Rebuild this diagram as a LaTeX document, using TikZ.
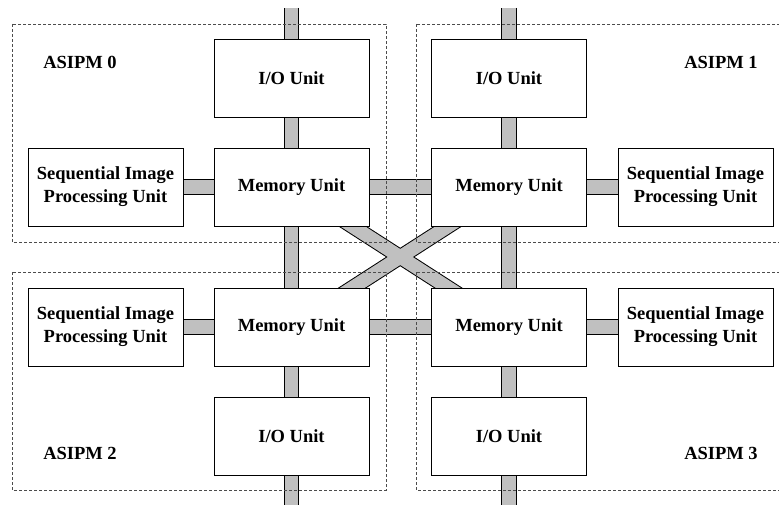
\documentclass[tikz,border=0pt]{standalone}
\usepackage{fontspec}
\setmainfont{Liberation Serif}
\usetikzlibrary{backgrounds}
\definecolor{busgray}{RGB}{192,192,192}

\begin{document}
\begin{tikzpicture}[x=1pt,y=-1pt,
  unit/.style={draw=black,line width=0.8pt,fill=white,minimum width=155pt,minimum height=78pt,inner sep=0pt,align=center,font=\fontsize{18.5}{23}\selectfont\bfseries},
  modname/.style={font=\fontsize{18.5}{23}\selectfont\bfseries},
  module/.style={draw=black!70,line width=0.8pt,dash pattern=on 3pt off 2pt}]
\useasboundingbox (0,0) rectangle (779,505);
\clip (0,0) rectangle (779,505);

\node[unit] (io0) at (291.5,78.5) {I/O Unit};
\node[unit] (mem0) at (291.5,187) {Memory Unit};
\node[unit] (seq0) at (105.5,187) {Sequential Image\\Processing Unit};
\node[unit] (io1) at (509,78.5) {I/O Unit};
\node[unit] (mem1) at (509,187) {Memory Unit};
\node[unit] (seq1) at (695.5,187) {Sequential Image\\Processing Unit};
\node[unit] (mem2) at (291.5,327) {Memory Unit};
\node[unit] (io2) at (291.5,436) {I/O Unit};
\node[unit] (seq2) at (105.5,327) {Sequential Image\\Processing Unit};
\node[unit] (mem3) at (509,327) {Memory Unit};
\node[unit] (io3) at (509,436) {I/O Unit};
\node[unit] (seq3) at (695.5,327) {Sequential Image\\Processing Unit};

\node[modname] (name0) at (80,62) {ASIPM 0};
\node[modname] (name1) at (721,62) {ASIPM 1};
\node[modname] (name2) at (80,453) {ASIPM 2};
\node[modname] (name3) at (721,453) {ASIPM 3};

\coordinate (top0) at (291.5,8);
\coordinate (top1) at (509,8);
\coordinate (bot0) at (291.5,510);
\coordinate (bot1) at (509,510);

\begin{pgfonlayer}{background}
\foreach \a/\b in {top0/io0,io0/mem0,mem0/mem2,mem2/io2,io2/bot0,top1/io1,io1/mem1,mem1/mem3,mem3/io3,io3/bot1,
  seq0/mem0,mem0/mem1,mem1/seq1,seq2/mem2,mem2/mem3,mem3/seq3,mem0/mem3,mem1/mem2}
  \draw[black,line width=15.5pt] (\a.center) -- (\b.center);
\foreach \a/\b in {top0/io0,io0/mem0,mem0/mem2,mem2/io2,io2/bot0,top1/io1,io1/mem1,mem1/mem3,mem3/io3,io3/bot1,
  seq0/mem0,mem0/mem1,mem1/seq1,seq2/mem2,mem2/mem3,mem3/seq3,mem0/mem3,mem1/mem2}
  \draw[busgray,line width=13.5pt] (\a.center) -- (\b.center);

\draw[module] (12,24) rectangle (386,242);
\draw[module] (416,24) rectangle (790,242);
\draw[module] (12,272) rectangle (386,490);
\draw[module] (416,272) rectangle (790,490);
\end{pgfonlayer}
\end{tikzpicture}
\end{document}
